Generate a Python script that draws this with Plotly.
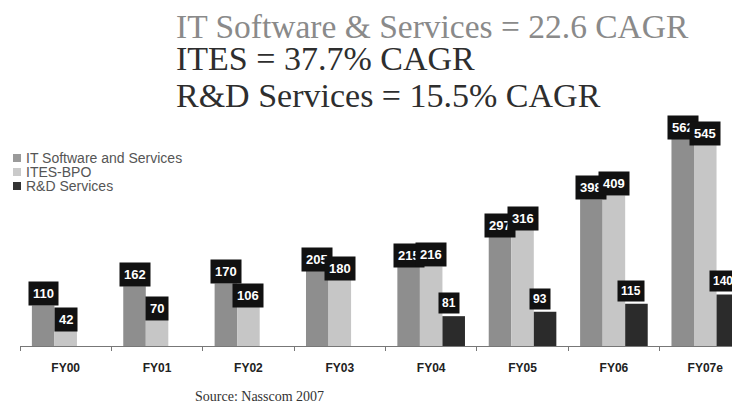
import plotly.graph_objects as go

# data (USD bn style values as printed on the chart)
years = ["FY00", "FY01", "FY02", "FY03", "FY04", "FY05", "FY06", "FY07e"]
it_services = [110, 162, 170, 205, 215, 297, 398, 562]
ites_bpo = [42, 70, 106, 180, 216, 316, 409, 545]
rnd_services = [None, None, None, None, 81, 93, 115, 140]

series_names = ["IT Software and Services", "ITES-BPO", "R&D Services"]
series_colors = ["#8e8e8e", "#c6c6c6", "#2b2b2b"]
legend_colors = ["#9a9a9a", "#cacaca", "#333333"]

headline = [
    ("IT Software & Services = 22.6 CAGR", "#8a8a8a"),
    ("ITES = 37.7% CAGR", "#2e2e2e"),
    ("R&D Services = 15.5% CAGR", "#2e2e2e"),
]
source_text = "Source: Nasscom 2007"

# the page body adds an 8px margin, so the figure is drawn 8px smaller
# and all targets below are given in screen pixels
W, H = 732, 399
M_L, M_R, M_T, M_B = 12, 0, 92, 61
PLOT_X0, PLOT_Y1 = 20, 346  # screen px of plot left / baseline
X_RANGE = [-0.5, 7.38]
Y_RANGE = [0, 668]
BARGAP = 0.26

plot_w = W - M_L - M_R
plot_h = H - M_T - M_B
px_per_cat = plot_w / (X_RANGE[1] - X_RANGE[0])
bar_px = px_per_cat * (1 - BARGAP) / 3


def px(sx):
    return (sx - PLOT_X0) / plot_w


def py(sy):
    return (PLOT_Y1 - sy) / plot_h


fig = go.Figure()
all_series = [it_services, ites_bpo, rnd_services]
for name, vals, col in zip(series_names, all_series, series_colors):
    fig.add_trace(go.Bar(x=years, y=vals, name=name, showlegend=False,
                         marker=dict(color=col, line=dict(width=0))))

# black value boxes sitting on top of each bar
annotations = []
for i, vals in enumerate(all_series):
    shift = (i - 1) * bar_px - (5 if i == 2 else 0)
    for yr, v in zip(years, vals):
        if v is None:
            continue
        annotations.append(dict(
            x=yr, y=v, xref="x", yref="y", text="<b>%d</b>" % v, showarrow=False,
            xanchor="center", yanchor="bottom", xshift=shift, yshift=2 if i == 2 else -1,
            bgcolor="#111111", borderpad=3 if i == 2 else 4,
            font=dict(family="Liberation Sans, Arial", size=13 if i < 2 else 12, color="white"),
        ))

# legend, top left, tight line spacing like the original
shapes = []
legend_rows = [158, 172, 186]
for name, col, yc in zip(series_names, legend_colors, legend_rows):
    shapes.append(dict(type="rect", xref="paper", yref="paper",
                       x0=px(13), x1=px(21), y0=py(yc + 4), y1=py(yc - 4),
                       fillcolor=col, line=dict(width=0)))
    annotations.append(dict(
        x=px(24), y=py(yc), xref="paper", yref="paper", text=name, showarrow=False,
        xanchor="left", yanchor="middle",
        font=dict(family="Liberation Sans, Arial", size=14, color="#555555"),
    ))

# headline lines
line_centers = [26, 59, 95]
line_sizes = [33.5, 34, 34]
for (txt, col), yc, fs in zip(headline, line_centers, line_sizes):
    annotations.append(dict(
        x=px(174), y=py(yc), xref="paper", yref="paper",
        text=txt, showarrow=False, xanchor="left", yanchor="middle",
        font=dict(family="Liberation Serif, Times New Roman, serif", size=fs, color=col),
    ))

annotations.append(dict(
    x=px(259), y=py(396), xref="paper", yref="paper",
    text=source_text, showarrow=False, xanchor="center", yanchor="middle",
    font=dict(family="Liberation Serif, Times New Roman, serif", size=14, color="#333333"),
))

fig.update_layout(
    width=W, height=H,
    margin=dict(l=M_L, r=M_R, t=M_T, b=M_B, autoexpand=False),
    paper_bgcolor="white", plot_bgcolor="white",
    barmode="group", bargap=BARGAP, bargroupgap=0,
    annotations=annotations, shapes=shapes,
    showlegend=False,
)

fig.update_xaxes(
    type="category", range=X_RANGE, showgrid=False, zeroline=False,
    showline=True, linecolor="#777777", linewidth=1,
    ticks="outside", tickson="boundaries", ticklen=4, tickcolor="#777777",
    ticklabelstandoff=11,
    tickfont=dict(family="Liberation Sans, Arial", size=12, color="#222222", weight="bold"),
)
fig.update_yaxes(range=Y_RANGE, visible=False, showgrid=False, zeroline=False)

fig.write_html("out.html")
